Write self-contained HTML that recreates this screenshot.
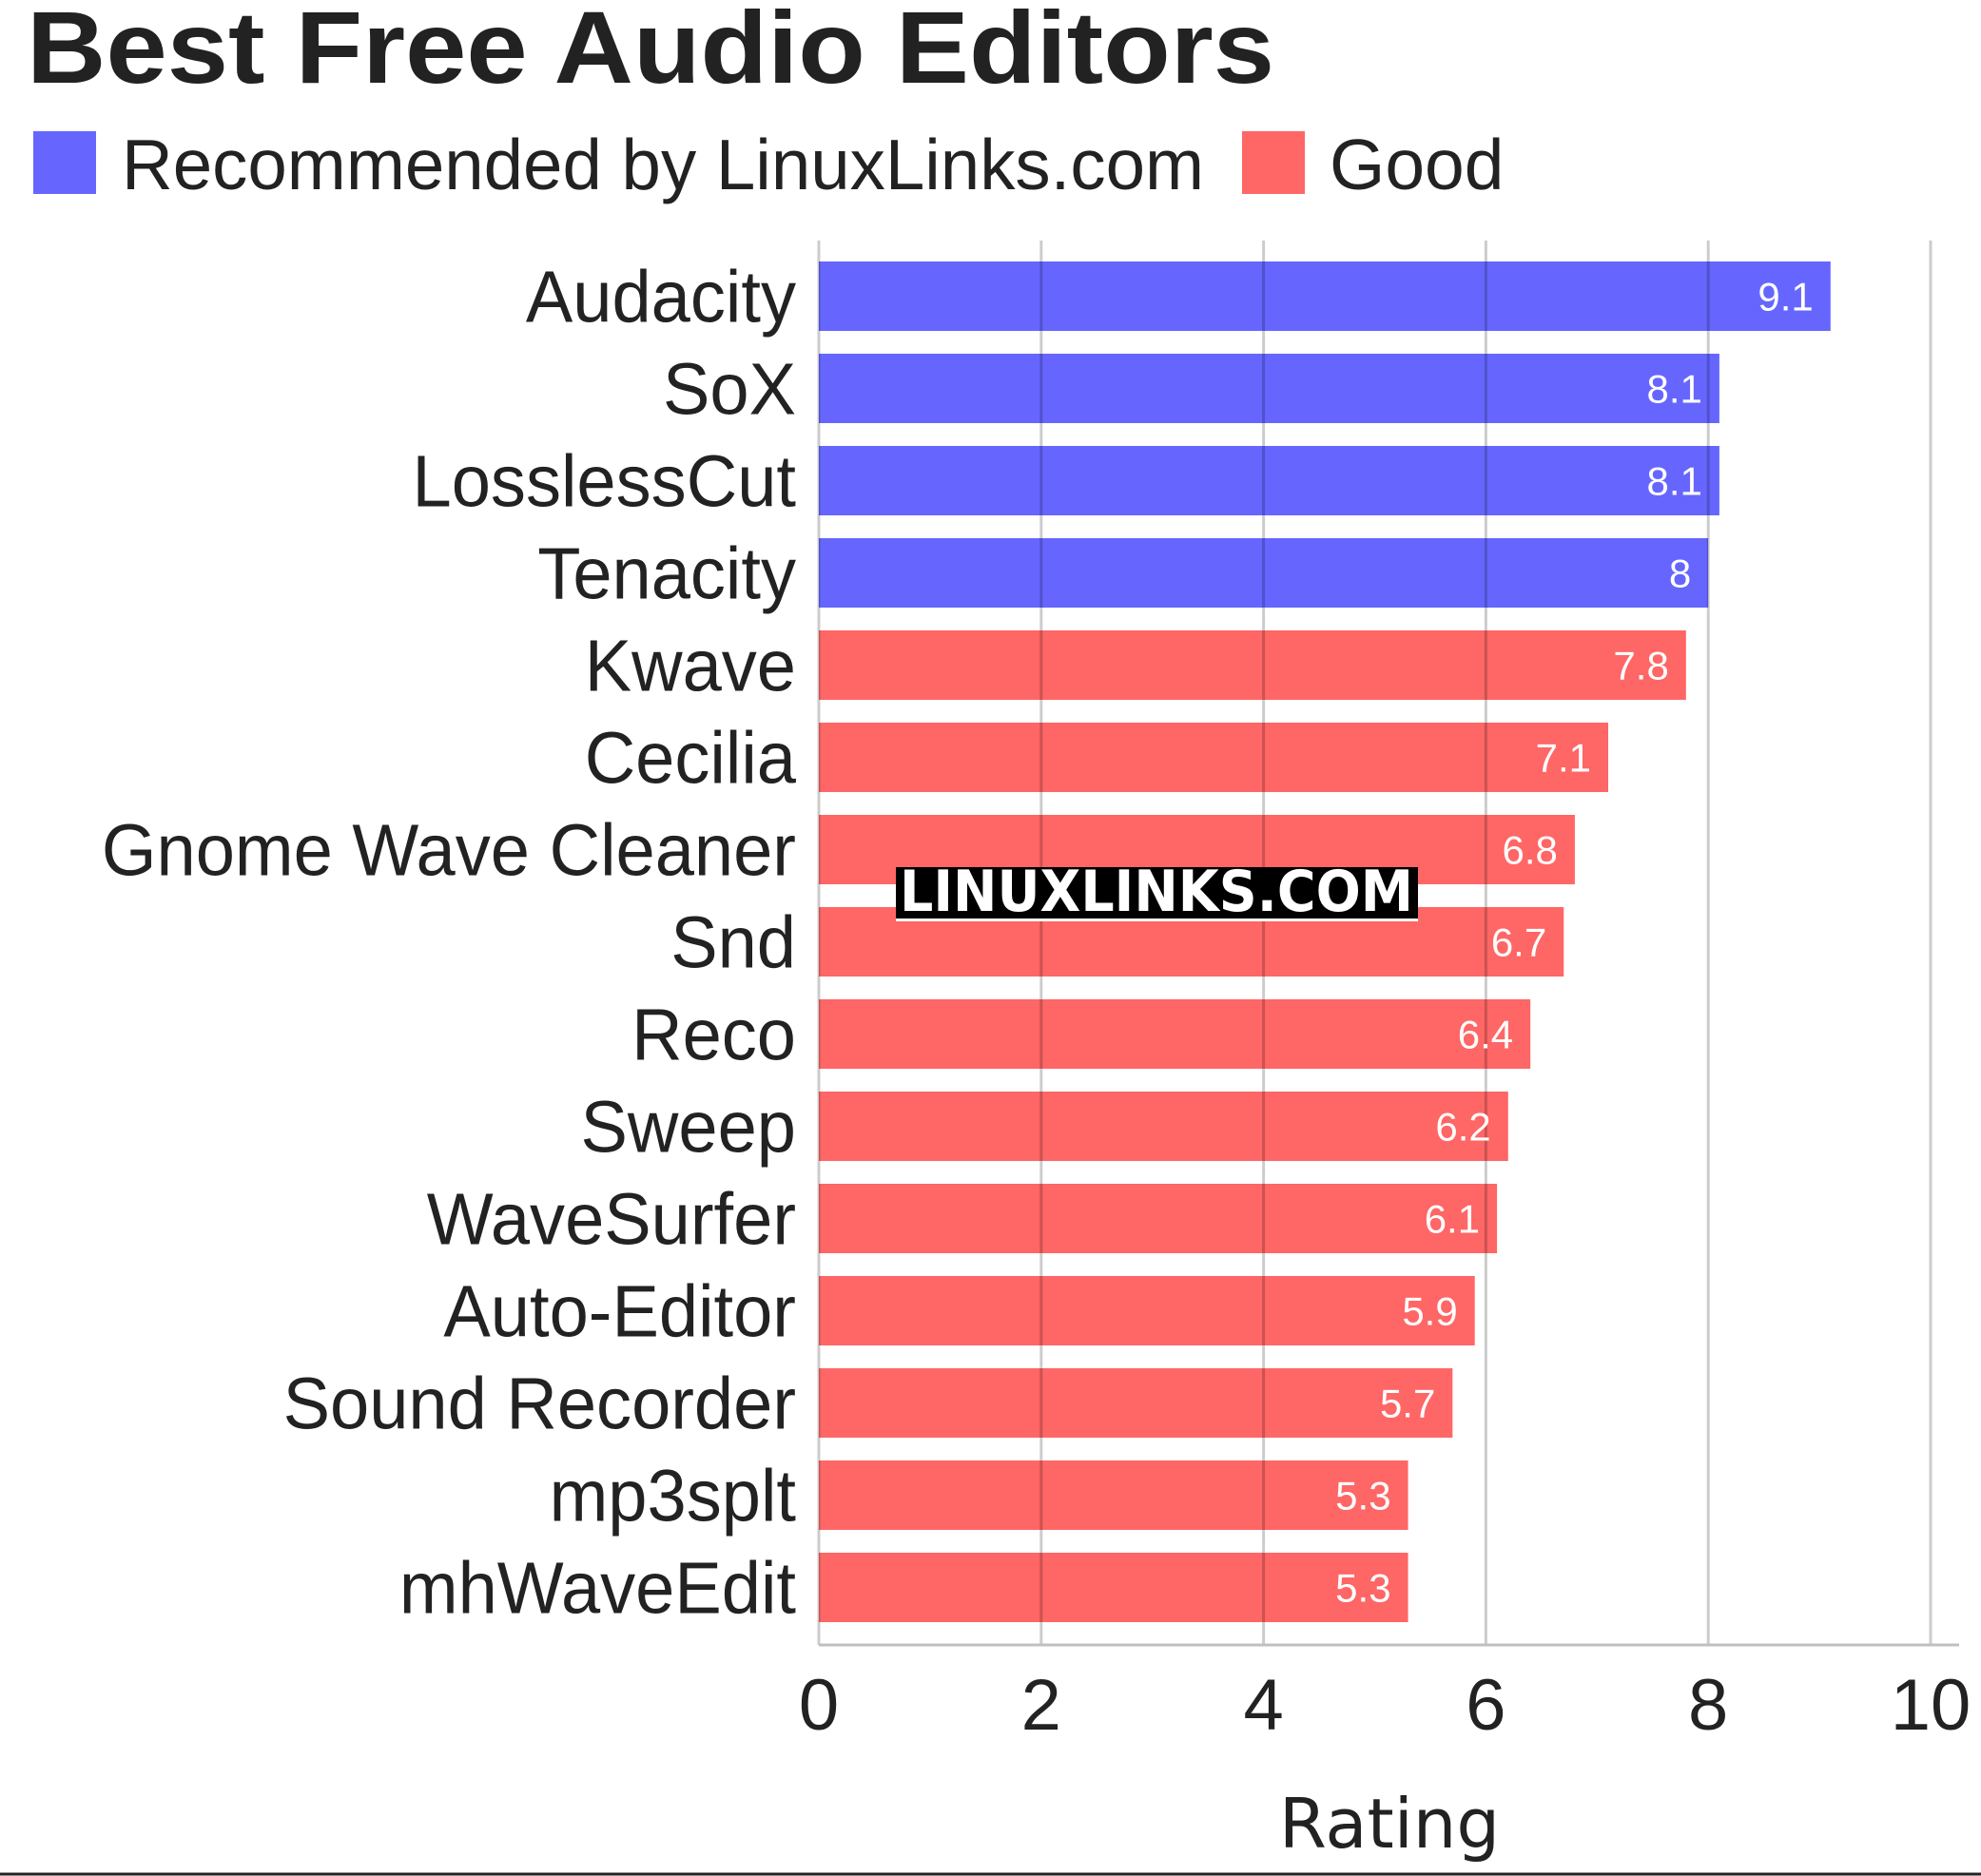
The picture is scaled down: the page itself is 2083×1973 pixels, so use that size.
<!DOCTYPE html>
<html><head><meta charset="utf-8"><style>html,body{margin:0;padding:0;background:#fff}svg{display:block}</style></head>
<body>
<svg id="chart" width="2083" height="1973" viewBox="0 0 2083 1973" xmlns="http://www.w3.org/2000/svg" font-family="'Liberation Sans', Arial, sans-serif">
<text x="28" y="87" font-size="108" font-weight="bold" fill="#222" textLength="1312" lengthAdjust="spacingAndGlyphs">Best Free Audio Editors</text>
<g>
<rect x="35" y="138" width="66" height="66" fill="#6666ff"/>
<text x="128" y="199" font-size="75" fill="#222" textLength="1138" lengthAdjust="spacingAndGlyphs">Recommended by LinuxLinks.com</text>
<rect x="1306" y="138" width="66" height="66" fill="#ff6666"/>
<text x="1398" y="199" font-size="75" fill="#222">Good</text>
</g>
<g id="bars"></g>
<g id="grid"></g>
<g id="labels"></g>
<g id="values"></g>
<g id="ticks"></g>
<line x1="861" y1="1730" x2="2060" y2="1730" stroke="#c0c0c0" stroke-width="3"/>
<g>
<rect x="942" y="912" width="549" height="54" fill="#000"/>
<rect x="942" y="966" width="549" height="3" fill="#fff"/>
<text x="1216" y="958" text-anchor="middle" font-family="'DejaVu Sans', sans-serif" font-weight="bold" font-size="60" fill="#fff" textLength="540" lengthAdjust="spacingAndGlyphs">LINUXLINKS.COM</text>
</g>
<text x="1461" y="1943" text-anchor="middle" font-family="'DejaVu Sans', sans-serif" font-size="72" fill="#222">Rating</text>
<line x1="0" y1="1971" x2="2083" y2="1971" stroke="#222" stroke-width="3"/>
</svg>
<script>
const categories = ["Audacity","SoX","LosslessCut","Tenacity","Kwave","Cecilia","Gnome Wave Cleaner","Snd","Reco","Sweep","WaveSurfer","Auto-Editor","Sound Recorder","mp3splt","mhWaveEdit"];
const values = [9.1,8.1,8.1,8,7.8,7.1,6.8,6.7,6.4,6.2,6.1,5.9,5.7,5.3,5.3];
const groups = ["rec","rec","rec","rec","good","good","good","good","good","good","good","good","good","good","good"];
const tickValues = [0,2,4,6,8,10];
const NS = "http://www.w3.org/2000/svg";
const x = v => 861 + v * 116.9;
const yTop = i => 275 + i * 97;
const BH = 73;
function mk(tag, attrs, parent){const e=document.createElementNS(NS,tag);for(const k in attrs)e.setAttribute(k,attrs[k]);parent.appendChild(e);return e;}
const gb=document.getElementById('bars'),gg=document.getElementById('grid'),gl=document.getElementById('labels'),gv=document.getElementById('values'),gt=document.getElementById('ticks');
categories.forEach((c,i)=>{
  const r=mk('rect',{x:x(0),y:yTop(i),width:x(values[i])-x(0),height:BH,fill:groups[i]==='rec'?'#6666ff':'#ff6666'},gb);
  
  
  const t=mk('text',{x:837,y:yTop(i)+BH/2+27,'text-anchor':'end','font-size':77,fill:'#222'},gl);
  t.textContent=c;
  
  
  const w=t.getComputedTextLength();
  if(w>0){t.setAttribute('textLength',(w*0.962).toFixed(1));t.setAttribute('lengthAdjust','spacingAndGlyphs');}
  const v=mk('text',{x:x(values[i])-18,y:yTop(i)+BH/2+15,'text-anchor':'end','font-size':42,fill:'#fff'},gv);
  v.textContent=String(values[i]);
  
  
});
tickValues.forEach(t=>{
  const l=mk('line',{x1:x(t),y1:253,x2:x(t),y2:1730,stroke:'rgba(0,0,0,0.2)','stroke-width':3},gg);
  
  
  const tx=mk('text',{x:x(t),y:1819,'text-anchor':'middle','font-size':76,fill:'#222'},gt);
  tx.textContent=String(t);
  
  
});
</script>
</body></html>
